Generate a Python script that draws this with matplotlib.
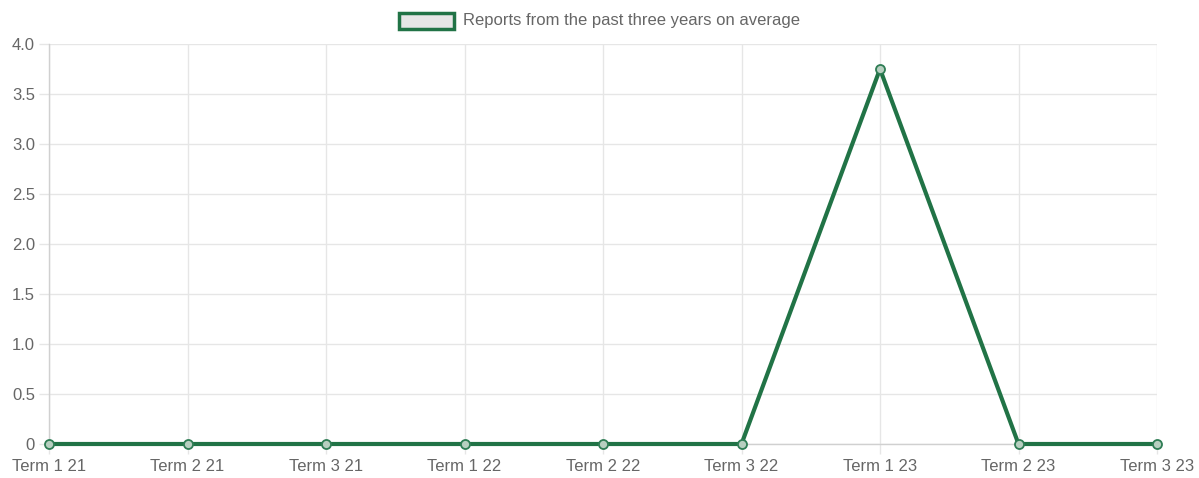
import matplotlib.pyplot as plt
from matplotlib.patches import Rectangle

plt.rcParams['font.family'] = ['Liberation Sans', 'DejaVu Sans']

# data
terms = ["Term 1 21", "Term 2 21", "Term 3 21", "Term 1 22", "Term 2 22",
         "Term 3 22", "Term 1 23", "Term 2 23", "Term 3 23"]
reports = [0, 0, 0, 0, 0, 0, 3.75, 0, 0]
y_ticks = [0, 0.5, 1.0, 1.5, 2.0, 2.5, 3.0, 3.5, 4.0]
y_labels = ["0", "0.5", "1.0", "1.5", "2.0", "2.5", "3.0", "3.5", "4.0"]

green = "#217346"
grid_c = "#e6e6e6"
text_c = "#666666"

fig = plt.figure(figsize=(11.99, 4.78), dpi=100)
ax = fig.add_axes([49 / 1199, 1 - 444 / 478, (1157 - 49) / 1199, 400 / 478])

x = list(range(len(terms)))
ax.plot(x, reports, color=green, linewidth=3, zorder=3, clip_on=False)
ax.plot(x, reports, linestyle="none", marker="o", markersize=6.5,
        markerfacecolor="#b7cfc0", markeredgecolor="#2f7d55",
        markeredgewidth=1.3, zorder=4, clip_on=False)

ax.set_xlim(0, len(terms) - 1)
ax.set_ylim(0, 4)
ax.set_xticks(x)
ax.set_xticklabels(terms)
ax.set_yticks(y_ticks)
ax.set_yticklabels(y_labels)

ax.grid(True, color=grid_c, linewidth=1)
ax.set_axisbelow(True)
for side in ["top", "right"]:
    ax.spines[side].set_visible(False)
for side in ["left", "bottom"]:
    ax.spines[side].set_color("#d0d0d0")
    ax.spines[side].set_linewidth(1)

ax.tick_params(axis="both", colors=grid_c, labelcolor=text_c, labelsize=12,
               length=7, width=1)
ax.tick_params(axis="x", pad=4)
ax.tick_params(axis="y", pad=3)

# legend drawn like chart.js
fig.patches.append(Rectangle((399 / 1199, 1 - 29 / 478), 55 / 1199, 16 / 478,
                             transform=fig.transFigure, facecolor="#e6e6e6",
                             edgecolor=green, linewidth=2.5))
fig.text(463 / 1199, 1 - 20.5 / 478, "Reports from the past three years on average",
         color=text_c, fontsize=12, va="center", ha="left")

fig.savefig("out.png", dpi=100)
